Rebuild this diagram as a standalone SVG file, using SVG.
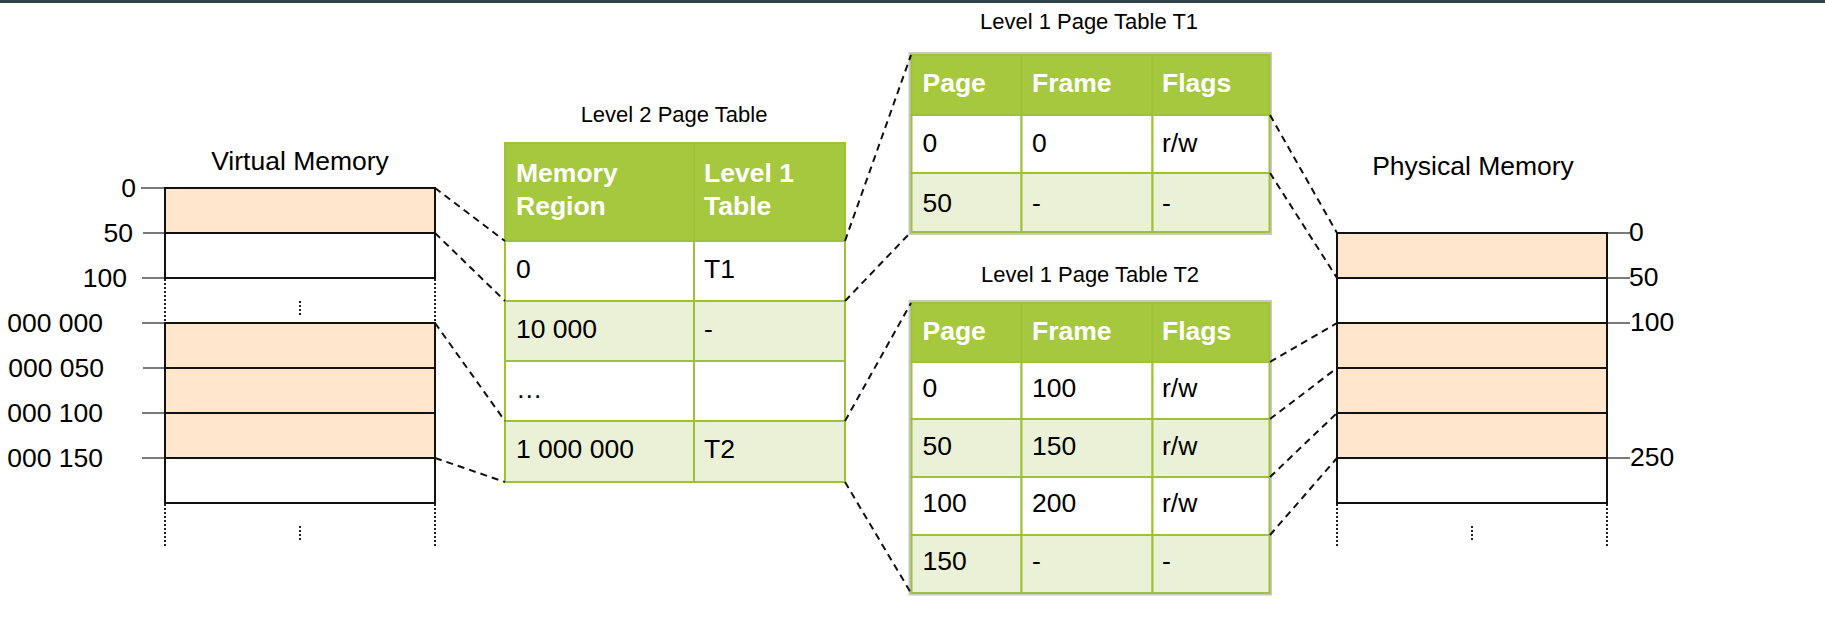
<svg xmlns="http://www.w3.org/2000/svg" width="1825" height="644" viewBox="0 0 1825 644">
  <style>
    text { font-family: "Liberation Sans", Arial, sans-serif; fill: #000; }
    .lbl { font-size: 26.5px; }
    .ttl { font-size: 22px; }
    .hdr { font-size: 26.5px; font-weight: bold; fill: #fff; }
    .cell { font-size: 26.5px; }
    .peach { fill: #ffe6cc; stroke: #111; stroke-width: 2; }
    .blank { fill: #fff; stroke: #111; stroke-width: 2; }
    .tick { stroke: #7a7a7a; stroke-width: 2; }
    .dots { stroke: #222; stroke-width: 2; stroke-dasharray: 2 2; fill: none; }
    .th { fill: #a6c83f; stroke: #9dc23a; stroke-width: 2; }
    .tw { fill: #ffffff; stroke: #9dc23a; stroke-width: 2; }
    .tg { fill: #eaf1d6; stroke: #9dc23a; stroke-width: 2; }
    .frame { fill: none; stroke: #c8c8c8; stroke-width: 3; }
    .link { stroke: #111; stroke-width: 2; stroke-dasharray: 7 5; fill: none; }
  </style>

  <!-- top rule -->
  <rect x="0" y="0" width="1825" height="3" fill="#2f4448"/>

  <!-- virtual address space -->
  <g id="virtual-memory">
    <text class="lbl" x="300" y="170" text-anchor="middle">Virtual Memory</text>
    <line class="tick" x1="141" y1="188" x2="165" y2="188"/>
    <line class="tick" x1="143" y1="233" x2="165" y2="233"/>
    <line class="tick" x1="142" y1="278" x2="165" y2="278"/>
    <line class="tick" x1="142" y1="323" x2="165" y2="323"/>
    <line class="tick" x1="143" y1="368" x2="165" y2="368"/>
    <line class="tick" x1="142" y1="413" x2="165" y2="413"/>
    <line class="tick" x1="142" y1="458" x2="165" y2="458"/>
    <rect class="peach" x="165" y="188" width="270" height="45"/>
    <rect class="blank" x="165" y="233" width="270" height="45"/>
    <rect class="peach" x="165" y="323" width="270" height="45"/>
    <rect class="peach" x="165" y="368" width="270" height="45"/>
    <rect class="peach" x="165" y="413" width="270" height="45"/>
    <rect class="blank" x="165" y="458" width="270" height="45"/>
    <path class="dots" d="M165 279V322 M435 279V322 M300 301V317 M165 504V548 M435 504V548 M300 526V541"/>
    <text class="lbl" x="136" y="197" text-anchor="end">0</text>
    <text class="lbl" x="133" y="242" text-anchor="end">50</text>
    <text class="lbl" x="127" y="286.5" text-anchor="end">100</text>
    <text class="lbl" x="103" y="332" text-anchor="end">000 000</text>
    <text class="lbl" x="104" y="377" text-anchor="end">000 050</text>
    <text class="lbl" x="103" y="422" text-anchor="end">000 100</text>
    <text class="lbl" x="103" y="467" text-anchor="end">000 150</text>
  </g>

  <!-- level 2 table -->
  <g id="level2-table">
    <text class="ttl" x="674" y="122" text-anchor="middle">Level 2 Page Table</text>
    <rect class="th" x="505" y="143" width="189" height="98"/>
    <rect class="th" x="694" y="143" width="151" height="98"/>
    <rect class="tw" x="505" y="241" width="189" height="60"/>
    <rect class="tw" x="694" y="241" width="151" height="60"/>
    <rect class="tg" x="505" y="301" width="189" height="60"/>
    <rect class="tg" x="694" y="301" width="151" height="60"/>
    <rect class="tw" x="505" y="361" width="189" height="60"/>
    <rect class="tw" x="694" y="361" width="151" height="60"/>
    <rect class="tg" x="505" y="421" width="189" height="61"/>
    <rect class="tg" x="694" y="421" width="151" height="61"/>
    <text class="hdr" x="516" y="181.5">Memory</text>
    <text class="hdr" x="516" y="215">Region</text>
    <text class="hdr" x="704" y="181.5">Level 1</text>
    <text class="hdr" x="704" y="215">Table</text>
    <text class="cell" x="516" y="278">0</text>
    <text class="cell" x="704" y="278">T1</text>
    <text class="cell" x="516" y="338">10 000</text>
    <text class="cell" x="704" y="338">-</text>
    <text class="cell" x="516" y="398">…</text>
    <text class="cell" x="516" y="458">1 000 000</text>
    <text class="cell" x="704" y="458">T2</text>
  </g>

  <!-- level 1 table T1 -->
  <g id="level1-table-t1">
    <text class="ttl" x="1089" y="29" text-anchor="middle">Level 1 Page Table T1</text>
    <rect class="frame" x="910" y="53.5" width="360.5" height="180"/>
    <rect class="th" x="911.5" y="55" width="110" height="60"/>
    <rect class="th" x="1021.5" y="55" width="131" height="60"/>
    <rect class="th" x="1152.5" y="55" width="117" height="60"/>
    <rect class="tw" x="911.5" y="115" width="110" height="58"/>
    <rect class="tw" x="1021.5" y="115" width="131" height="58"/>
    <rect class="tw" x="1152.5" y="115" width="117" height="58"/>
    <rect class="tg" x="911.5" y="173" width="110" height="59"/>
    <rect class="tg" x="1021.5" y="173" width="131" height="59"/>
    <rect class="tg" x="1152.5" y="173" width="117" height="59"/>
    <text class="hdr" x="922.5" y="92">Page</text>
    <text class="hdr" x="1032" y="92">Frame</text>
    <text class="hdr" x="1162" y="92">Flags</text>
    <text class="cell" x="922.5" y="152">0</text>
    <text class="cell" x="1032" y="152">0</text>
    <text class="cell" x="1162" y="152">r/w</text>
    <text class="cell" x="922.5" y="211.5">50</text>
    <text class="cell" x="1032" y="211.5">-</text>
    <text class="cell" x="1162" y="211.5">-</text>
  </g>

  <!-- level 1 table T2 -->
  <g id="level1-table-t2">
    <text class="ttl" x="1090" y="281.5" text-anchor="middle">Level 1 Page Table T2</text>
    <rect class="frame" x="910" y="301.5" width="360.5" height="292.5"/>
    <rect class="th" x="911.5" y="303" width="110" height="59"/>
    <rect class="th" x="1021.5" y="303" width="131" height="59"/>
    <rect class="th" x="1152.5" y="303" width="117" height="59"/>
    <rect class="tw" x="911.5" y="362" width="110" height="57"/>
    <rect class="tw" x="1021.5" y="362" width="131" height="57"/>
    <rect class="tw" x="1152.5" y="362" width="117" height="57"/>
    <rect class="tg" x="911.5" y="419" width="110" height="58"/>
    <rect class="tg" x="1021.5" y="419" width="131" height="58"/>
    <rect class="tg" x="1152.5" y="419" width="117" height="58"/>
    <rect class="tw" x="911.5" y="477" width="110" height="58"/>
    <rect class="tw" x="1021.5" y="477" width="131" height="58"/>
    <rect class="tw" x="1152.5" y="477" width="117" height="58"/>
    <rect class="tg" x="911.5" y="535" width="110" height="58"/>
    <rect class="tg" x="1021.5" y="535" width="131" height="58"/>
    <rect class="tg" x="1152.5" y="535" width="117" height="58"/>
    <text class="hdr" x="922.5" y="340">Page</text>
    <text class="hdr" x="1032" y="340">Frame</text>
    <text class="hdr" x="1162" y="340">Flags</text>
    <text class="cell" x="922.5" y="397">0</text>
    <text class="cell" x="1032" y="397">100</text>
    <text class="cell" x="1162" y="397">r/w</text>
    <text class="cell" x="922.5" y="454.5">50</text>
    <text class="cell" x="1032" y="454.5">150</text>
    <text class="cell" x="1162" y="454.5">r/w</text>
    <text class="cell" x="922.5" y="512">100</text>
    <text class="cell" x="1032" y="512">200</text>
    <text class="cell" x="1162" y="512">r/w</text>
    <text class="cell" x="922.5" y="570">150</text>
    <text class="cell" x="1032" y="570">-</text>
    <text class="cell" x="1162" y="570">-</text>
  </g>

  <!-- physical frames -->
  <g id="physical-memory">
    <text class="lbl" x="1473" y="175" text-anchor="middle">Physical Memory</text>
    <line class="tick" x1="1607" y1="233" x2="1630" y2="233"/>
    <line class="tick" x1="1607" y1="278" x2="1630" y2="278"/>
    <line class="tick" x1="1607" y1="323" x2="1630" y2="323"/>
    <line class="tick" x1="1607" y1="458" x2="1630" y2="458"/>
    <rect class="peach" x="1337" y="233" width="270" height="45"/>
    <rect class="blank" x="1337" y="278" width="270" height="45"/>
    <rect class="peach" x="1337" y="323" width="270" height="45"/>
    <rect class="peach" x="1337" y="368" width="270" height="45"/>
    <rect class="peach" x="1337" y="413" width="270" height="45"/>
    <rect class="blank" x="1337" y="458" width="270" height="45"/>
    <path class="dots" d="M1337 504V547 M1607 504V547 M1472 526V541"/>
    <text class="lbl" x="1629" y="241">0</text>
    <text class="lbl" x="1629" y="286">50</text>
    <text class="lbl" x="1630" y="331">100</text>
    <text class="lbl" x="1630" y="466">250</text>
  </g>

  <!-- mapping connectors -->
  <g id="connectors">
    <line class="link" x1="435" y1="188" x2="505" y2="241"/>
    <line class="link" x1="435" y1="233" x2="505" y2="301"/>
    <line class="link" x1="435" y1="323" x2="505" y2="421"/>
    <line class="link" x1="435" y1="458" x2="505" y2="482"/>
    <line class="link" x1="845" y1="241" x2="911" y2="55"/>
    <line class="link" x1="845" y1="301" x2="911" y2="232"/>
    <line class="link" x1="845" y1="421" x2="911" y2="303"/>
    <line class="link" x1="845" y1="482" x2="911" y2="593"/>
    <line class="link" x1="1270" y1="115" x2="1337" y2="233"/>
    <line class="link" x1="1270" y1="173" x2="1337" y2="278"/>
    <line class="link" x1="1270" y1="362" x2="1337" y2="323"/>
    <line class="link" x1="1270" y1="419" x2="1337" y2="368"/>
    <line class="link" x1="1270" y1="477" x2="1337" y2="413"/>
    <line class="link" x1="1270" y1="535" x2="1337" y2="458"/>
  </g>
</svg>
